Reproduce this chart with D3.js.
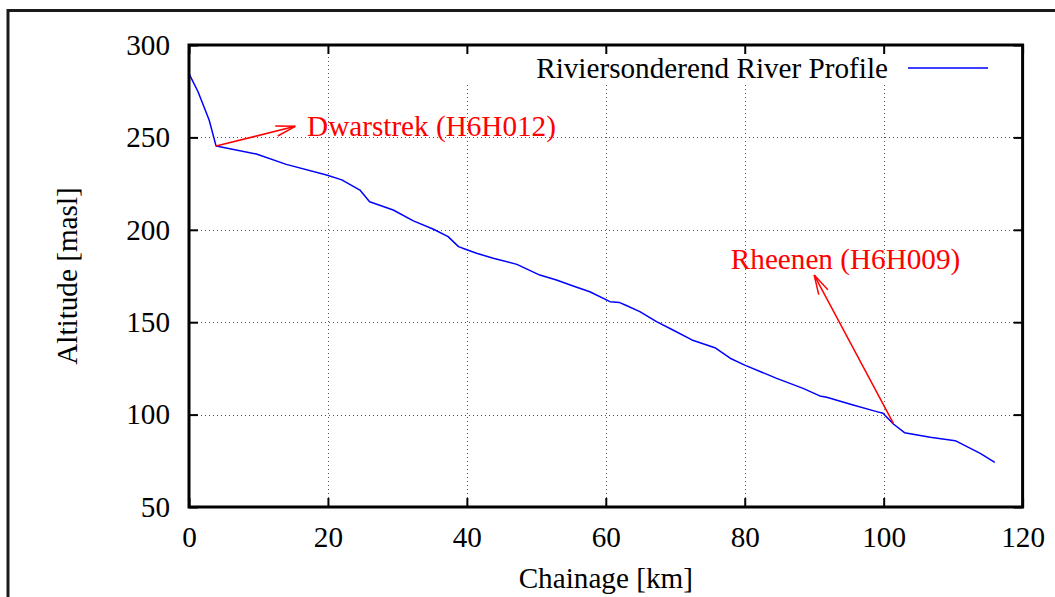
<!DOCTYPE html>
<html>
<head>
<meta charset="utf-8">
<script src="https://cdn.jsdelivr.net/npm/d3@7/dist/d3.min.js"></script>
<style>
  html, body { margin: 0; padding: 0; background: #fff; }
  svg text { font-family: "Liberation Serif", "Times New Roman", serif; }
</style>
</head>
<body>
<script>
// River long profile: chainage (km) against bed altitude (m above sea level)
const chainage = [0, 1.3, 2.9, 3.9, 9.7, 14, 19.8, 22, 24.6, 26, 29.4, 32.3, 35.2, 37.3, 38.8, 39.7,
  41.4, 43.8, 47.2, 50.5, 52.9, 55.3, 57.7, 60.6, 62, 62.8, 64.9, 67.3, 69.8, 72.4, 75.7, 77.9,
  80, 84.6, 88.4, 90.8, 91.8, 95.6, 99, 99.9, 101.4, 103, 106.7, 110.3, 113.9, 116];
const altitude = [284.5, 274.7, 259.4, 245.3, 241, 235.4, 229.7, 227, 221.5, 215.2, 210.7, 204.8, 200.3, 196.3, 190.9, 189.6,
  187.3, 184.6, 181.3, 175.5, 172.8, 169.6, 166.5, 161.1, 160.6, 159.3, 155.7, 150.3, 145.5, 140.4, 136.2, 130.5,
  126.8, 119.6, 114.2, 110.1, 109.4, 105.2, 101.6, 100.7, 94.9, 90.2, 87.7, 85.9, 79, 74.2];

const xTicks = [0, 20, 40, 60, 80, 100, 120];
const yTicks = [50, 100, 150, 200, 250, 300];

const seriesName = "Riviersonderend River Profile";
const xTitle = "Chainage [km]";
const yTitle = "Altitude [masl]";

// Gauging stations: arrow from the river point to the label
const stationNames = ["Dwarstrek (H6H012)", "Rheenen (H6H009)"];
const stationFrom = [[3.9, 245.3], [101.4, 95.2]];
const stationTo = [[15.3, 256], [90, 175.5]];
const stationLabelAt = [[17, 256], [78, 184]];

const W = 1055, H = 597;
const plot = { left: 189, right: 1022.6, top: 45, bottom: 507 };
const fontSize = 29.2;

const svg = d3.select("body").append("svg")
  .attr("width", W).attr("height", H);

const x = d3.scaleLinear().domain([0, 120]).range([plot.left, plot.right]);
const y = d3.scaleLinear().domain([50, 300]).range([plot.bottom, plot.top]);

// Outer page frame
svg.append("rect")
  .attr("x", 8).attr("y", 10.5).attr("width", 1200).attr("height", 800)
  .attr("fill", "none").attr("stroke", "#1a1a1a").attr("stroke-width", 3);

// Dotted grid
const grid = svg.append("g").attr("stroke", "#555").attr("stroke-width", 1)
  .attr("stroke-dasharray", "1,3");
grid.selectAll("line.gx").data(xTicks.slice(1, -1)).join("line")
  .attr("x1", d => Math.round(x(d)) + 0.5).attr("x2", d => Math.round(x(d)) + 0.5)
  .attr("y1", plot.top).attr("y2", plot.bottom);
grid.selectAll("line.gy").data(yTicks.slice(1, -1)).join("line")
  .attr("y1", d => Math.round(y(d)) + 0.5).attr("y2", d => Math.round(y(d)) + 0.5)
  .attr("x1", plot.left).attr("x2", plot.right);

// Key box keeps the grid clear behind the legend
const keyY = 68;
svg.append("rect")
  .attr("x", 462).attr("y", plot.top).attr("width", plot.right - 462).attr("height", 83 - plot.top)
  .attr("fill", "#fff");

// Profile line
const line = d3.line().x((d, i) => x(chainage[i])).y((d, i) => y(altitude[i]));
svg.append("path")
  .datum(altitude)
  .attr("d", line)
  .attr("fill", "none")
  .attr("stroke", "#0000ff")
  .attr("stroke-width", 1.5)
  .attr("stroke-linejoin", "round");

// Station arrows and labels
const arrows = svg.append("g").attr("stroke", "#ff0000").attr("stroke-width", 1.5).attr("fill", "none");
stationNames.forEach((name, i) => {
  const x0 = x(stationFrom[i][0]), y0 = y(stationFrom[i][1]);
  const x1 = x(stationTo[i][0]), y1 = y(stationTo[i][1]);
  arrows.append("line").attr("x1", x0).attr("y1", y0).attr("x2", x1).attr("y2", y1);
  const ang = Math.atan2(y1 - y0, x1 - x0);
  const headLen = 20, spread = 15 * Math.PI / 180;
  [ -spread, spread ].forEach(s => {
    arrows.append("line")
      .attr("x1", x1).attr("y1", y1)
      .attr("x2", x1 - headLen * Math.cos(ang + s))
      .attr("y2", y1 - headLen * Math.sin(ang + s));
  });
  svg.append("text")
    .attr("x", x(stationLabelAt[i][0]))
    .attr("y", y(stationLabelAt[i][1]) + fontSize * 0.34)
    .attr("fill", "#ff0000")
    .attr("font-size", fontSize)
    .text(name);
});

// Axes with inward ticks, mirrored on top and right
function styleAxis(g) {
  g.select(".domain").remove();
  g.selectAll(".tick line").attr("stroke", "#000").attr("stroke-width", 2);
  g.selectAll(".tick text").attr("fill", "#000")
    .attr("font-family", "'Liberation Serif', 'Times New Roman', serif")
    .attr("font-size", fontSize);
}
svg.append("g").attr("transform", `translate(0,${plot.bottom})`)
  .call(d3.axisBottom(x).tickValues(xTicks).tickSize(-9).tickPadding(19).tickFormat(d3.format("d")))
  .call(styleAxis);
svg.append("g").attr("transform", `translate(0,${plot.top})`)
  .call(d3.axisTop(x).tickValues(xTicks).tickSize(-9).tickFormat(""))
  .call(styleAxis);
svg.append("g").attr("transform", `translate(${plot.left},0)`)
  .call(d3.axisLeft(y).tickValues(yTicks).tickSize(-9).tickPadding(19).tickFormat(d3.format("d")))
  .call(styleAxis);
svg.append("g").attr("transform", `translate(${plot.right},0)`)
  .call(d3.axisRight(y).tickValues(yTicks).tickSize(-9).tickFormat(""))
  .call(styleAxis);

// Plot frame
svg.append("rect")
  .attr("x", plot.left).attr("y", plot.top)
  .attr("width", plot.right - plot.left).attr("height", plot.bottom - plot.top)
  .attr("fill", "none").attr("stroke", "#000").attr("stroke-width", 3);

// Legend
svg.append("text")
  .attr("x", 888).attr("y", keyY + fontSize * 0.34)
  .attr("text-anchor", "end").attr("font-size", fontSize).attr("fill", "#000")
  .text(seriesName);
svg.append("line")
  .attr("x1", 908).attr("x2", 988).attr("y1", keyY).attr("y2", keyY)
  .attr("stroke", "#0000ff").attr("stroke-width", 1.5);

// Axis titles
svg.append("text")
  .attr("x", (plot.left + plot.right) / 2).attr("y", 588)
  .attr("text-anchor", "middle").attr("font-size", fontSize).attr("fill", "#000")
  .text(xTitle);
svg.append("text")
  .attr("transform", `translate(77,${(plot.top + plot.bottom) / 2}) rotate(-90)`)
  .attr("text-anchor", "middle").attr("font-size", fontSize).attr("fill", "#000")
  .text(yTitle);
</script>
</body>
</html>
